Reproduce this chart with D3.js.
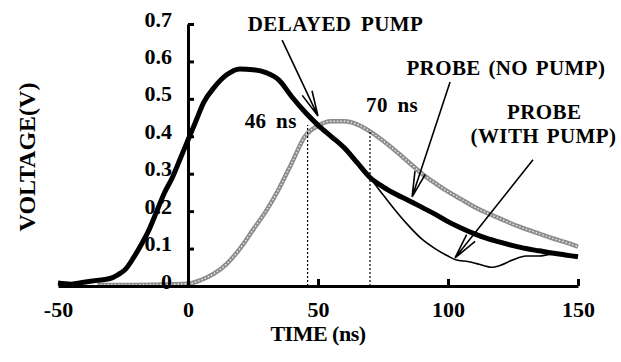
<!DOCTYPE html>
<html>
<head>
<meta charset="utf-8">
<script src="https://cdn.jsdelivr.net/npm/d3@7"></script>
<style>
  body { margin: 0; background: #fff; }
  svg text { font-family: "Liberation Serif", "Times New Roman", serif; font-weight: bold; fill: #000; }
</style>
</head>
<body>
<div id="chart"></div>
<script>
// time axis (ns) and voltage axis (V)
const xTicks = [-50, 0, 50, 100, 150];
const yTicks = [0, 0.1, 0.2, 0.3, 0.4, 0.5, 0.6, 0.7];

// delayed pump pulse (thick black trace)
const pumpTime = [-50, -45, -40, -35, -30, -27, -24, -21, -18, -15, -12, -9, -6, -3, 0, 3, 6, 10, 15, 20,
  25, 30, 35, 40, 45, 50, 55, 60, 65, 70, 75, 80, 85, 90, 95, 100, 105, 110, 115, 120, 125, 130, 135, 140, 145, 150];
const pumpVolt = [0.008, 0.005, 0.01, 0.015, 0.02, 0.03, 0.045, 0.075, 0.11, 0.15, 0.2, 0.25, 0.29, 0.34, 0.39, 0.44, 0.49, 0.53, 0.565, 0.58,
  0.578, 0.57, 0.55, 0.505, 0.465, 0.43, 0.4, 0.37, 0.33, 0.29, 0.265, 0.245, 0.228, 0.21, 0.192, 0.172, 0.155, 0.14, 0.127, 0.117, 0.108, 0.1, 0.094, 0.088, 0.083, 0.078];

// probe, no pump (grey trace)
const probeTime = [-35, -20, -10, 0, 5, 10, 15, 20, 25, 30, 35, 40, 45, 50, 55, 60, 65, 70, 75, 80, 85, 90, 95,
  100, 105, 110, 115, 120, 125, 130, 135, 140, 145, 150];
const probeVolt = [0.003, 0.003, 0.004, 0.006, 0.016, 0.033, 0.06, 0.1, 0.15, 0.2, 0.26, 0.33, 0.4, 0.428, 0.44, 0.44, 0.432, 0.413, 0.388, 0.36, 0.33, 0.3, 0.275,
  0.252, 0.232, 0.212, 0.195, 0.18, 0.165, 0.152, 0.14, 0.128, 0.117, 0.105];

// probe with pump (thin black trace), splits off at 70 ns
const withTime = [70, 73, 76, 80, 85, 90, 95, 100, 103, 108, 112, 117, 120, 125, 130, 135, 140, 145, 150];
const withVolt = [0.29, 0.262, 0.235, 0.2, 0.16, 0.125, 0.1, 0.08, 0.07, 0.065, 0.058, 0.05, 0.055, 0.07, 0.08, 0.08, 0.085, 0.085, 0.08];

// marker times (dotted verticals)
const markTime = [46, 70];
const markVolt = [0.43, 0.413];

const width = 621, height = 362;
const x = d3.scaleLinear().domain([-50, 150]).range([58, 578]);
const y = d3.scaleLinear().domain([0, 0.7]).range([286, 24]);

const svg = d3.select("#chart").append("svg")
  .attr("width", width)
  .attr("height", height);

const toPts = (ts, vs) => ts.map((t, i) => ({ t, v: vs[i] }));
const line = d3.line().curve(d3.curveMonotoneX).x(d => x(d.t)).y(d => y(d.v));

// grey probe trace, hatched look
svg.append("path")
  .datum(toPts(probeTime, probeVolt))
  .attr("fill", "none")
  .attr("stroke", "#8c8c8c")
  .attr("stroke-width", 4.5)
  .attr("d", line);
svg.append("path")
  .datum(toPts(probeTime, probeVolt))
  .attr("fill", "none")
  .attr("stroke", "#e6e6e6")
  .attr("stroke-width", 1.5)
  .attr("stroke-dasharray", "1.5,2")
  .attr("d", line);

// pump trace
svg.append("path")
  .datum(toPts(pumpTime, pumpVolt))
  .attr("fill", "none")
  .attr("stroke", "#000")
  .attr("stroke-width", 5)
  .attr("stroke-linejoin", "round")
  .attr("d", line);

// probe with pump
svg.append("path")
  .datum(toPts(withTime, withVolt))
  .attr("fill", "none")
  .attr("stroke", "#000")
  .attr("stroke-width", 1.6)
  .attr("d", line);

// dotted markers
svg.selectAll(".mark")
  .data(markTime)
  .enter()
  .append("line")
  .attr("class", "mark")
  .attr("x1", d => x(d))
  .attr("x2", d => x(d))
  .attr("y1", y(0))
  .attr("y2", (d, i) => y(markVolt[i]))
  .attr("stroke", "#000")
  .attr("stroke-width", 1.2)
  .attr("stroke-dasharray", "2,2");

// axes
const xAxis = svg.append("g")
  .attr("transform", `translate(0,${y(0)})`)
  .call(d3.axisBottom(x).tickValues(xTicks).tickSizeInner(-7).tickSizeOuter(0).tickPadding(15).tickFormat(d => String(d)));
xAxis.selectAll(".tick line").filter(d => d <= 0).remove();

const yAxis = svg.append("g")
  .attr("transform", `translate(${x(0)},0)`)
  .call(d3.axisLeft(y).tickValues(yTicks).tickSizeInner(-6).tickSizeOuter(0).tickPadding(16)
    .tickFormat(d => d === 0 ? "0" : d3.format(".1f")(d)));
yAxis.selectAll(".tick text").attr("transform", "translate(0,-5)");

svg.selectAll(".domain, .tick line")
  .attr("stroke", "#000")
  .attr("stroke-width", 3);
svg.selectAll(".tick text")
  .attr("font-size", 22)
  .attr("font-family", null)
  .attr("fill", "#000");

// axis titles
svg.append("text")
  .attr("x", x(50))
  .attr("y", 341)
  .attr("text-anchor", "middle")
  .attr("font-size", 22)
  .attr("letter-spacing", -0.5)
  .text("TIME (ns)");

svg.append("text")
  .attr("transform", `translate(35,${(y(0) + y(0.7)) / 2 + 2}) rotate(-90)`)
  .attr("text-anchor", "middle")
  .attr("font-size", 24)
  .text("VOLTAGE(V)");

// annotations: text placed in data coordinates
const notes = [
  { text: "DELAYED PUMP", t: 23, v: 0.681, anchor: "start", ws: 4 },
  { text: "PROBE (NO PUMP)", t: 84, v: 0.564, anchor: "start", ws: 2 },
  { text: "70 ns", t: 68.5, v: 0.465, anchor: "start", ws: 4 },
  { text: "46 ns", t: 21.8, v: 0.422, anchor: "start", ws: 4 },
  { text: "PROBE", t: 137, v: 0.446, anchor: "middle", ws: 0 },
  { text: "(WITH PUMP)", t: 136.7, v: 0.382, anchor: "middle", ws: 2 }
];
svg.selectAll(".note")
  .data(notes)
  .enter()
  .append("text")
  .attr("class", "note")
  .attr("x", d => x(d.t))
  .attr("y", d => y(d.v))
  .attr("text-anchor", d => d.anchor)
  .attr("font-size", 21)
  .attr("letter-spacing", 0.4)
  .attr("word-spacing", d => d.ws)
  .text(d => d.text);

// arrows from labels to traces
const arrows = [
  { t0: 36.2, v0: 0.657, t1: 50, v1: 0.454 },
  { t0: 100.8, v0: 0.545, t1: 86.2, v1: 0.238 },
  { t0: 132.7, v0: 0.337, t1: 102.7, v1: 0.075 }
];
const headLen = 26, headAng = 12 * Math.PI / 180;
arrows.forEach(a => {
  const sx = x(a.t0), sy = y(a.v0), ex = x(a.t1), ey = y(a.v1);
  const ang = Math.atan2(sy - ey, sx - ex);
  const p = d3.path();
  p.moveTo(sx, sy);
  p.lineTo(ex, ey);
  [-headAng, headAng].forEach(da => {
    p.moveTo(ex, ey);
    p.lineTo(ex + headLen * Math.cos(ang + da), ey + headLen * Math.sin(ang + da));
  });
  svg.append("path")
    .attr("d", p.toString())
    .attr("fill", "none")
    .attr("stroke", "#000")
    .attr("stroke-width", 1.6);
});
</script>
</body>
</html>
